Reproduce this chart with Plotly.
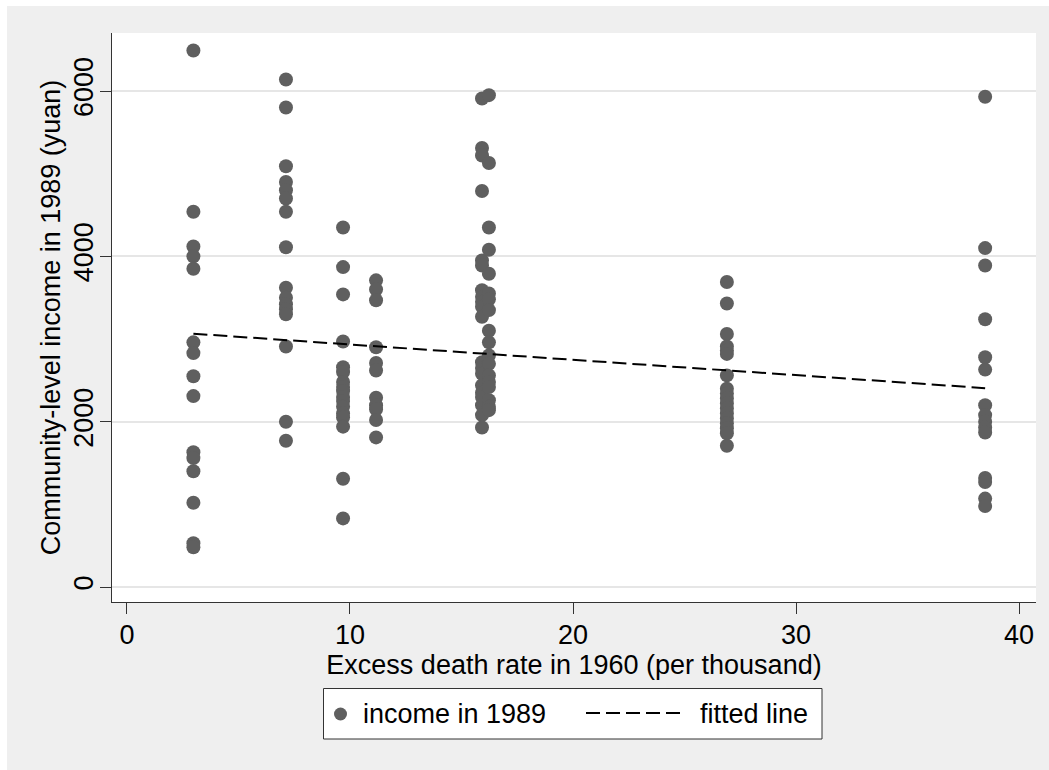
import plotly.graph_objects as go

# ---- data ----
rate_a = 2.98
income_a = [6490, 4540, 4120, 4000, 3850, 2960, 2830, 2550, 2310, 1630, 1560, 1400, 1020, 530, 480]

rate_b = 7.13
income_b = [6140, 5800, 5090, 4900, 4800, 4700, 4540, 4110, 3620, 3500, 3420, 3360, 3300, 2910, 2000, 1770]

rate_c = 9.69
income_c = [4350, 3870, 3540, 2970, 2660, 2600, 2480, 2420, 2370, 2300, 2250, 2180, 2100, 2050, 1940, 1310, 830]

rate_d = 11.17
income_d = [3710, 3600, 3470, 2900, 2710, 2620, 2290, 2200, 2150, 2020, 1810]

rate_e1 = 15.92
income_e1 = [5910, 5310, 5220, 4790, 3950, 3890, 3590, 3510, 3450, 3390, 3270, 2720, 2650, 2580,
             2440, 2350, 2300, 2200, 2080, 1930]

rate_e2 = 16.23
income_e2 = [5950, 5130, 4350, 4080, 3790, 3550, 3480, 3350, 3100, 2960, 2800, 2700, 2560, 2480,
             2420, 2260, 2180, 2140]

rate_f = 26.9
income_f = [3690, 3430, 3060, 2910, 2860, 2820, 2560, 2400, 2340, 2280, 2220, 2160, 2100, 2040,
            1980, 1920, 1860, 1710]

rate_g = 38.48
income_g = [5930, 4100, 3890, 3240, 2780, 2630, 2200, 2080, 2000, 1930, 1870, 1320, 1270, 1070, 980]

fit_rate = [2.98, 38.48]
fit_intercept = 3120
fit_slope = -18.56

legend_labels = ["income in 1989", "fitted line"]

groups = [(rate_a, income_a), (rate_b, income_b), (rate_c, income_c), (rate_d, income_d),
          (rate_e1, income_e1), (rate_e2, income_e2), (rate_f, income_f), (rate_g, income_g)]
xs, ys = [], []
for r, inc in groups:
    xs += [r] * len(inc)
    ys += inc
fit_income = [fit_intercept + fit_slope * r for r in fit_rate]

FONT = "Liberation Sans, Arial, sans-serif"
FS = 27
AX = "#333333"
MARK = "#5f5f5f"
BG = "#efefef"
DASH = "14px,6px"

fig = go.Figure()
fig.add_trace(go.Scatter(x=xs, y=ys, mode="markers", name=legend_labels[0], showlegend=False,
                         marker=dict(size=14, color=MARK, line=dict(width=0))))
fig.add_trace(go.Scatter(x=fit_rate, y=fit_income, mode="lines", name=legend_labels[1],
                         showlegend=False, line=dict(color="black", width=2, dash=DASH)))

W, H = 1049, 770
L, T, R, B = 112, 33, 13, 168
pw, ph = W - L - R, H - T - B


def px(sx):  # screen x -> paper x
    return (sx - L) / pw


def py(sy):  # screen y -> paper y
    return (H - B - sy) / ph


ly = 714
shapes = [
    # thin white frame on top and left of the grey background
    dict(type="rect", xref="paper", yref="paper", x0=px(-2), x1=px(W + 2), y0=py(6), y1=py(-2),
         fillcolor="white", line=dict(width=0), layer="above"),
    dict(type="rect", xref="paper", yref="paper", x0=px(-2), x1=px(7), y0=py(H + 2), y1=py(-2),
         fillcolor="white", line=dict(width=0), layer="above"),
    # legend box
    dict(type="rect", xref="paper", yref="paper", x0=px(323.5), x1=px(822), y0=py(739), y1=py(688.5),
         fillcolor="white", line=dict(color=AX, width=1)),
    dict(type="circle", xref="paper", yref="paper", x0=px(334), x1=px(347), y0=py(ly + 6.5), y1=py(ly - 6.5),
         fillcolor=MARK, line=dict(width=0)),
    dict(type="line", xref="paper", yref="paper", x0=px(586), x1=px(683), y0=py(ly - 1), y1=py(ly - 1),
         line=dict(color="black", width=2, dash=DASH)),
]
annotations = [
    dict(text=legend_labels[0], xref="paper", yref="paper", x=px(361), y=py(ly), xanchor="left",
         yanchor="middle", showarrow=False, font=dict(family=FONT, size=FS, color="black")),
    dict(text=legend_labels[1], xref="paper", yref="paper", x=px(698), y=py(ly), xanchor="left",
         yanchor="middle", showarrow=False, font=dict(family=FONT, size=FS, color="black")),
]

fig.update_layout(
    width=W, height=H,
    margin=dict(l=L, r=R, t=T, b=B, pad=0),
    paper_bgcolor=BG, plot_bgcolor="white",
    font=dict(family=FONT, size=FS, color="black"),
    showlegend=False,
    xaxis=dict(range=[-0.67, 40.76], tickvals=[0, 10, 20, 30, 40], ticks="outside",
               ticklen=11, tickwidth=1, tickcolor=AX, showline=True, linecolor=AX, linewidth=1,
               showgrid=False, zeroline=False, mirror=False, ticklabelstandoff=-2,
               tickfont=dict(family=FONT, size=FS, color="black"),
               title=dict(text="Excess death rate in 1960 (per thousand)", standoff=0,
                          font=dict(family=FONT, size=FS, color="black"))),
    yaxis=dict(range=[-181, 6702], tickvals=[0, 2000, 4000, 6000], ticks="outside",
               ticklen=11, tickwidth=1, tickcolor=AX, showline=True, linecolor=AX, linewidth=1,
               showgrid=True, gridcolor="#e6e6e6", gridwidth=2, zeroline=False, mirror=False,
               tickangle=-90, ticklabelstandoff=-4, tickfont=dict(family=FONT, size=FS, color="black"),
               title=dict(text="Community-level income in 1989 (yuan)", standoff=0,
                          font=dict(family=FONT, size=FS, color="black"))),
    shapes=shapes,
    annotations=annotations,
)

fig.write_html(
    "out.html",
    config={"displayModeBar": False, "staticPlot": True},
    post_script=("document.body.style.margin='0';"
                 "document.body.style.background='%s';"
                 "document.documentElement.style.background='%s';"
                 "document.documentElement.style.overflow='hidden';") % (BG, BG),
)
